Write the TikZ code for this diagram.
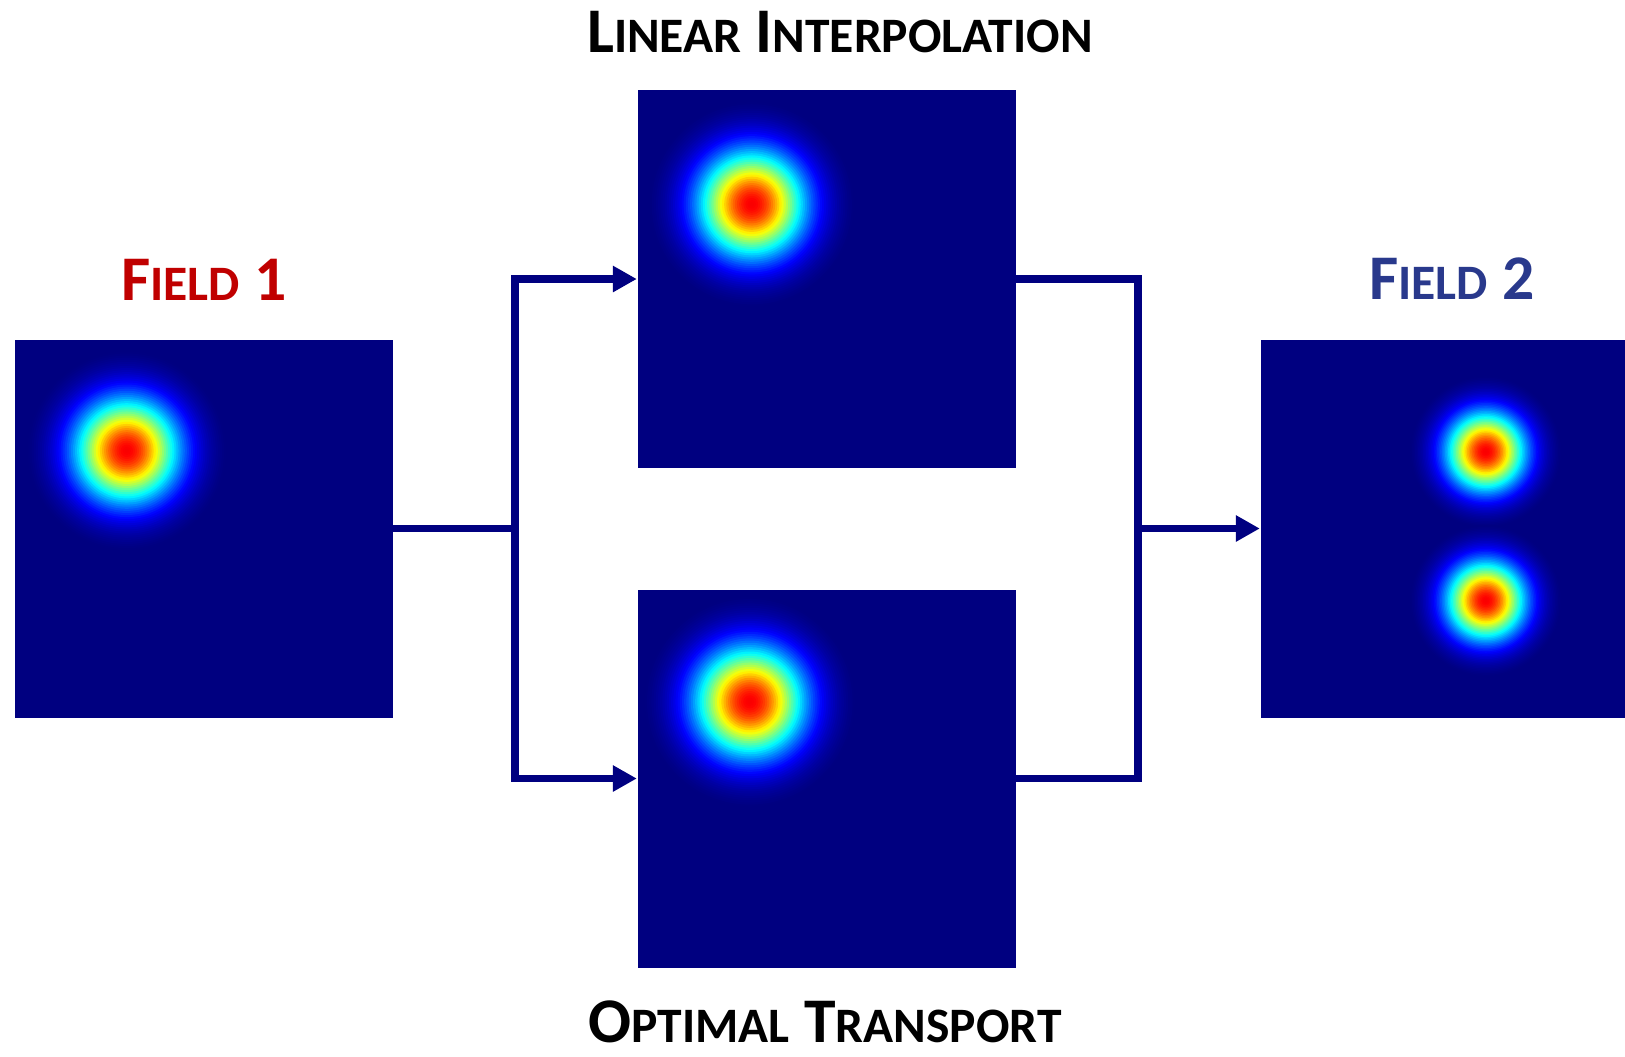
\documentclass[tikz,border=0pt]{standalone}
\usepackage{fontspec}
\setmainfont{Carlito}
\usepackage{tikz}
\usetikzlibrary{arrows.meta}

\definecolor{fieldbg}{RGB}{0,0,128}
\definecolor{fieldred}{RGB}{192,0,0}
\definecolor{fieldblue}{RGB}{41,57,140}

% gaussian bump in the jet colour map, drawn as rings out to 2.8 sigma
% #1 = centre coordinate, #2 = sigma (cm)
\newcommand{\gaussblob}[2]{%
	\foreach \k in {0,...,47}{
		\pgfmathsetmacro{\rad}{2.8*#2*(1-\k/48)}
		\pgfmathsetmacro{\val}{0.88*(exp(-0.5*((\rad-0.03*#2)/#2)^2)-0.0198)/0.9802}
		\pgfmathsetmacro{\cr}{max(0,min(1,min(4*\val-1.5,4.5-4*\val)))}
		\pgfmathsetmacro{\cg}{max(0,min(1,min(4*\val-0.5,3.5-4*\val)))}
		\pgfmathsetmacro{\cb}{max(0,min(1,min(4*\val+0.5,2.5-4*\val)))}
		\definecolor{blobc}{rgb}{\cr,\cg,\cb}
		\fill[blobc] (#1) circle (\rad);
	}
}

\newcommand{\lowcaps}[1]{{\fontsize{14.1pt}{16pt}\selectfont #1}}

\tikzset{
	field/.style={rectangle, fill=fieldbg, inner sep=0pt, minimum size=3.78cm},
	title/.style={anchor=base, inner sep=0pt, font=\fontsize{18.1pt}{20pt}\selectfont\bfseries},
	link/.style={draw=fieldbg, line width=2pt},
	tip/.style={-{Triangle[length=0.24cm, width=0.25cm]}}
}

\begin{document}
\begin{tikzpicture}
	\useasboundingbox (0,0) rectangle (16.25,-10.56);

	\node[field] (f1)  at (2.035, -5.285)  {};
	\node[field] (lin) at (8.265, -2.79)   {};
	\node[field] (ot)  at (8.265, -7.785)  {};
	\node[field] (f2)  at (14.495, -5.285) {};

	% centres of the bumps
	\coordinate (b1)  at ([shift={(1.13,-1.12)}]f1.north west);
	\coordinate (b2)  at ([shift={(1.15,-1.15)}]lin.north west);
	\coordinate (b3)  at ([shift={(1.13,-1.13)}]ot.north west);
	\coordinate (b4a) at ([shift={(2.26,-1.13)}]f2.north west);
	\coordinate (b4b) at ([shift={(2.26,-2.62)}]f2.north west);

	\gaussblob{b1}{0.355}
	\gaussblob{b2}{0.365}
	\gaussblob{b3}{0.375}
	\gaussblob{b4a}{0.27}
	\gaussblob{b4b}{0.27}

	\node[title, text=fieldred]  (t1)   at (2.04, -3.00)  {F\lowcaps{IELD} 1};
	\node[title, text=fieldblue] (t2)   at (14.52, -2.99) {F\lowcaps{IELD} 2};
	\node[title]                 (tlin) at (8.40, -0.52)  {L\lowcaps{INEAR} I\lowcaps{NTERPOLATION}};
	\node[title]                 (tot)  at (8.25, -10.42) {O\lowcaps{PTIMAL} T\lowcaps{RANSPORT}};

	\coordinate (jl) at (5.15, -5.285);
	\coordinate (jr) at (11.38, -5.285);

	\path[link] (f1.east) -- (jl);
	\path[link, tip] (jl) |- (lin.west);
	\path[link, tip] (jl) |- (ot.west);
	\path[link] (lin.east) -| (jr) |- (ot.east);
	\path[link, tip] (jr) -- (f2.west);

\end{tikzpicture}
\end{document}
